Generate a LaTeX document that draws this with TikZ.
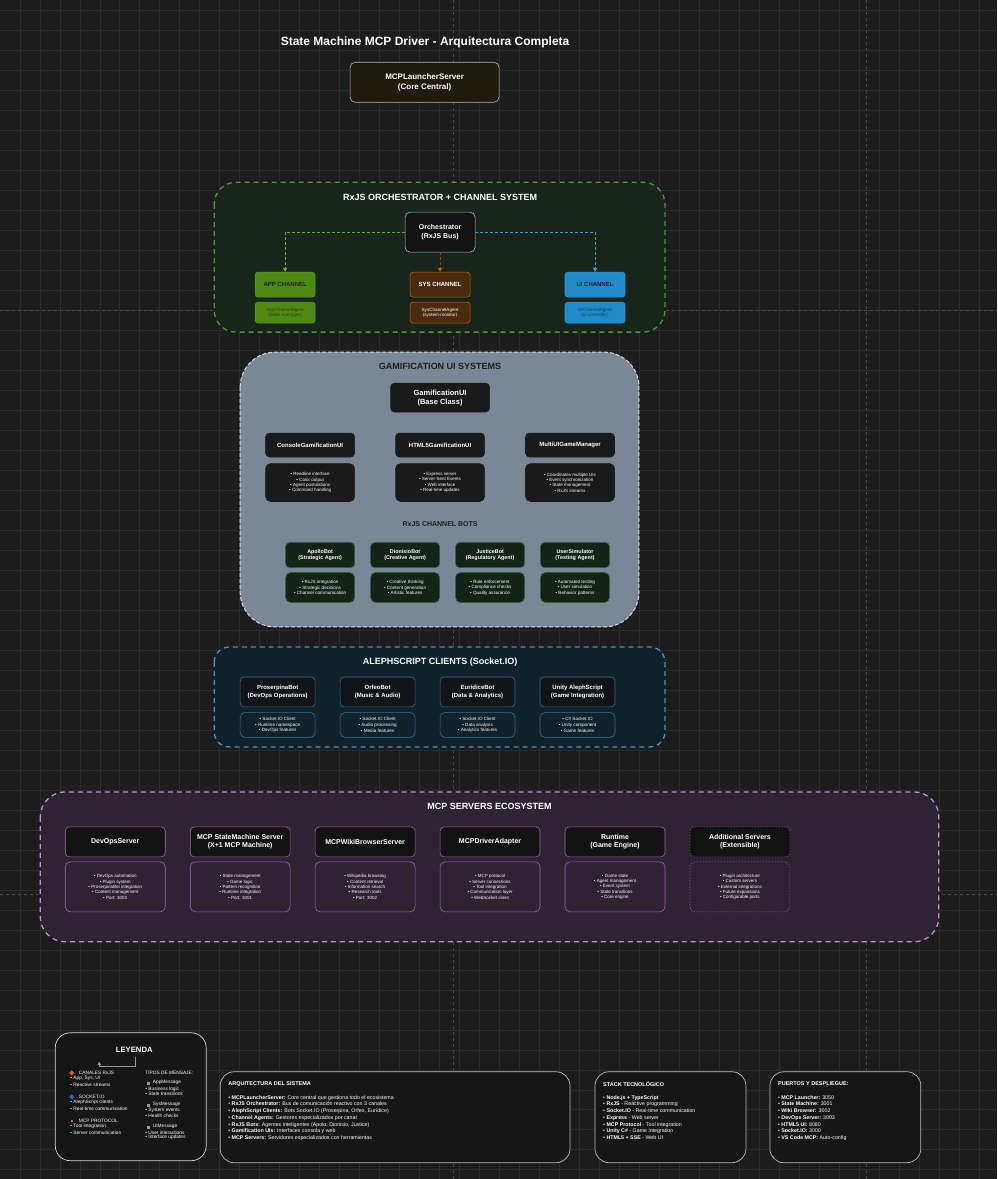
\documentclass[tikz,border=0pt]{standalone}
\usepackage{fontspec}
\setmainfont{Liberation Sans}
\usetikzlibrary{arrows.meta}

% colours
\definecolor{bgdark}{HTML}{1C1C1C}
\definecolor{gridline}{HTML}{2C2C2C}
\definecolor{pagebreak}{HTML}{4A4A4A}
\definecolor{cardblack}{HTML}{121212}
\definecolor{cardgray}{HTML}{B4B4B4}
\definecolor{launchfill}{HTML}{1F1A0B}
\definecolor{rxfill}{HTML}{18251A}
\definecolor{rxborder}{HTML}{4E9A3A}
\definecolor{appgreen}{HTML}{4E8A13}
\definecolor{appedge}{HTML}{5C9E1E}
\definecolor{apptext}{HTML}{2A3D18}
\definecolor{sysfill}{HTML}{4A2A0D}
\definecolor{sysorange}{HTML}{C6620F}
\definecolor{sysline}{HTML}{8A4A14}
\definecolor{uiblue}{HTML}{1F8BC9}
\definecolor{uiedge}{HTML}{2C9AD8}
\definecolor{uitext}{HTML}{1A3E5C}
\definecolor{flowgreen}{HTML}{6AAA3C}
\definecolor{flowblue}{HTML}{4A9AD0}
\definecolor{gamfill}{HTML}{7A8797}
\definecolor{gamedge}{HTML}{D6DADF}
\definecolor{gamtext}{HTML}{1E1E1E}
\definecolor{gamcard}{HTML}{1A1A1A}
\definecolor{botfill}{HTML}{142317}
\definecolor{botedge}{HTML}{2F5F37}
\definecolor{alephfill}{HTML}{0F222C}
\definecolor{alephedge}{HTML}{4A94C6}
\definecolor{clientedge}{HTML}{3A6E8E}
\definecolor{clientfill}{HTML}{111418}
\definecolor{mcpfill}{HTML}{2E2233}
\definecolor{mcpedge}{HTML}{C48FD8}
\definecolor{srvedge}{HTML}{9A6CA8}
\definecolor{extraedge}{HTML}{7E6488}
\definecolor{notefill}{HTML}{161616}
\definecolor{noteedge}{HTML}{BDBDBD}
\definecolor{legorange}{HTML}{E8601C}
\definecolor{legblue}{HTML}{1E70C2}
\definecolor{leggray}{HTML}{9A9A9A}

\tikzset{
  groupbox/.style={line width=1.3pt, dash pattern=on 5pt off 4pt},
  grouptitle/.style={text=white, font=\bfseries\fontsize{9}{11}\selectfont},
  card/.style={draw=#1, fill=cardblack, text=white, rounded corners=4pt, line width=0.6pt, align=center, inner sep=0pt, font=\bfseries\fontsize{6}{7.4}\selectfont},
  card/.default=cardblack,
  desc/.style={draw=#1, text=white, rounded corners=5pt, line width=0.6pt, align=center, inner sep=0pt, font=\fontsize{4.5}{5.4}\selectfont},
  chan/.style={rounded corners=3pt, line width=0.6pt, minimum width=60pt, minimum height=25pt, inner sep=0pt, align=center, font=\bfseries\fontsize{6}{7}\selectfont},
  chanagent/.style={rounded corners=3pt, line width=0.6pt, minimum width=60pt, minimum height=21pt, inner sep=0pt, align=center, font=\fontsize{4.6}{5.6}\selectfont},
  flow/.style={line width=1pt, dash pattern=on 3pt off 2pt},
  note/.style={draw=noteedge, fill=notefill, rounded corners=14pt, line width=0.7pt},
  notetext/.style={text=white, align=left, anchor=north west, inner sep=0pt, font=\fontsize{5.3}{6.7}\selectfont},
  legtext/.style={text=white, anchor=west, inner sep=0pt, font=\fontsize{4.8}{5.8}\selectfont},
}

\begin{document}
\begin{tikzpicture}[x=1pt,y=-1pt]
  % background, grid and page breaks
  \fill[bgdark] (0,0) rectangle (997,1179);
  \foreach \gx in {19.5,39.5,...,997} \draw[gridline, line width=0.5pt] (\gx,0) -- (\gx,1179);
  \foreach \gy in {10,30,...,1179} \draw[gridline, line width=0.5pt] (0,\gy) -- (997,\gy);
  \draw[pagebreak, line width=0.6pt, dash pattern=on 3pt off 3pt] (453,0) -- (453,1179) (866.5,0) -- (866.5,1179) (0,310) -- (997,310) (0,894.5) -- (997,894.5);

  % the title and the launcher
  \node[text=white, font=\bfseries\fontsize{12}{14}\selectfont] (title) at (425,42) {State Machine MCP Driver - Arquitectura Completa};
  \node[card=cardgray, fill=launchfill, rounded corners=5pt, minimum width=149pt, minimum height=40pt, font=\bfseries\fontsize{8}{9.6}\selectfont] (launcher) at (424.5,82) {MCPLauncherServer\\(Core Central)};

  % rxjs orchestrator and the channels
  \draw[groupbox, draw=rxborder, fill=rxfill, rounded corners=22pt] (214,182) rectangle (665,332);
  \node[grouptitle] (rxtitle) at (440,197) {RxJS ORCHESTRATOR + CHANNEL SYSTEM};
  \node[card=cardgray, rounded corners=5pt, minimum width=70pt, minimum height=40pt, font=\bfseries\fontsize{7}{8.4}\selectfont] (orch) at (440,232) {Orchestrator\\(RxJS Bus)};

  \node[chan, draw=appedge, fill=appgreen, text=gamtext] (appch) at (285,284.5) {APP CHANNEL};
  \node[chan, draw=sysorange, fill=sysfill, text=white] (sysch) at (440,284.5) {SYS CHANNEL};
  \node[chan, draw=uiedge, fill=uiblue, text=gamtext] (uich) at (595,284.5) {UI CHANNEL};
  \node[chanagent, draw=appedge, fill=appgreen, text=apptext] (appag) at (285,312.5) {AppChannelAgent\\(state-manager)};
  \node[chanagent, draw=sysorange, fill=sysfill, text=white] (sysag) at (440,312.5) {SysChannelAgent\\(system-monitor)};
  \node[chanagent, draw=uiedge, fill=uiblue, text=uitext] (uiag) at (595,312.5) {UIChannelAgent\\(ui-controller)};

  % draw the arrows
  \draw[flow, flowgreen, -{Triangle[length=4pt,width=4pt]}] (orch.west) -| (appch.north);
  \draw[flow, sysline, -{Triangle[length=4pt,width=4pt,color=sysorange]}] (orch.south) -- (sysch.north);
  \draw[flow, flowblue, -{Triangle[length=4pt,width=4pt]}] (orch.east) -| (uich.north);

  % gamification ui systems
  \draw[groupbox, draw=gamedge, fill=gamfill, rounded corners=35pt, line width=1pt, dash pattern=on 4pt off 2pt] (240,352) rectangle (639,627);
  \node[grouptitle, text=gamtext] (gamtitle) at (440,366) {GAMIFICATION UI SYSTEMS};
  \node[card=gamcard, fill=gamcard, minimum width=99pt, minimum height=29pt, font=\bfseries\fontsize{7.5}{9}\selectfont] (gambase) at (440,397.5) {GamificationUI\\(Base Class)};

  \node[card=gamcard, fill=gamcard, minimum width=89pt, minimum height=24pt] (consoleui) at (310,445) {ConsoleGamificationUI};
  \node[card=gamcard, fill=gamcard, minimum width=89pt, minimum height=24pt] (htmlui) at (440,445) {HTML5GamificationUI};
  \node[card=gamcard, fill=gamcard, minimum width=89pt, minimum height=24pt] (multiui) at (570,445) {MultiUIGameManager};
  \node[desc=gamcard, fill=gamcard, minimum width=89pt, minimum height=38pt] (consoledesc) at (310,482.5) {• Readline interface\\• Color output\\• Agent postulations\\• Command handling};
  \node[desc=gamcard, fill=gamcard, minimum width=89pt, minimum height=38pt] (htmldesc) at (440,482.5) {• Express server\\• Server-Sent Events\\• Web interface\\• Real-time updates};
  \node[desc=gamcard, fill=gamcard, minimum width=89pt, minimum height=38pt] (multidesc) at (570,482.5) {• Coordinates multiple UIs\\• Event synchronization\\• State management\\• RxJS streams};

  % the bots
  \node[text=gamtext, font=\bfseries\fontsize{7}{8}\selectfont] (bottitle) at (440,524) {RxJS CHANNEL BOTS};
  \node[card=botedge, fill=botfill, minimum width=69pt, minimum height=25pt, font=\bfseries\fontsize{5.4}{6.6}\selectfont] (apollo) at (320,555) {ApolloBot\\(Strategic Agent)};
  \node[card=botedge, fill=botfill, minimum width=69pt, minimum height=25pt, font=\bfseries\fontsize{5.4}{6.6}\selectfont] (dionisio) at (405,555) {DionisioBot\\(Creative Agent)};
  \node[card=botedge, fill=botfill, minimum width=69pt, minimum height=25pt, font=\bfseries\fontsize{5.4}{6.6}\selectfont] (justice) at (490,555) {JusticeBot\\(Regulatory Agent)};
  \node[card=botedge, fill=botfill, minimum width=69pt, minimum height=25pt, font=\bfseries\fontsize{5.4}{6.6}\selectfont] (usersim) at (575,555) {UserSimulator\\(Testing Agent)};
  \node[desc=botedge, fill=botfill, minimum width=69pt, minimum height=30pt, font=\fontsize{4.6}{5.5}\selectfont] (apollodesc) at (320,587.5) {• RxJS integration\\• Strategic decisions\\• Channel communication};
  \node[desc=botedge, fill=botfill, minimum width=69pt, minimum height=30pt, font=\fontsize{4.6}{5.5}\selectfont] (dionisiodesc) at (405,587.5) {• Creative thinking\\• Content generation\\• Artistic features};
  \node[desc=botedge, fill=botfill, minimum width=69pt, minimum height=30pt, font=\fontsize{4.6}{5.5}\selectfont] (justicedesc) at (490,587.5) {• Rule enforcement\\• Compliance checks\\• Quality assurance};
  \node[desc=botedge, fill=botfill, minimum width=69pt, minimum height=30pt, font=\fontsize{4.6}{5.5}\selectfont] (usersimdesc) at (575,587.5) {• Automated testing\\• User simulation\\• Behavior patterns};

  % alephscript clients
  \draw[groupbox, draw=alephedge, fill=alephfill, rounded corners=15pt] (214,647) rectangle (665,747);
  \node[grouptitle] (alephtitle) at (440,662) {ALEPHSCRIPT CLIENTS (Socket.IO)};
  \node[card=clientedge, fill=clientfill, minimum width=75pt, minimum height=30pt] (proserpina) at (277.5,692) {ProserpinaBot\\(DevOps Operations)};
  \node[card=clientedge, fill=clientfill, minimum width=75pt, minimum height=30pt] (orfeo) at (377.5,692) {OrfeoBot\\(Music \& Audio)};
  \node[card=clientedge, fill=clientfill, minimum width=75pt, minimum height=30pt] (euridice) at (477.5,692) {EuridiceBot\\(Data \& Analytics)};
  \node[card=clientedge, fill=clientfill, minimum width=75pt, minimum height=30pt] (unity) at (577.5,692) {Unity AlephScript\\(Game Integration)};
  \node[desc=clientedge, fill=alephfill, minimum width=75pt, minimum height=25pt, font=\fontsize{4.6}{5.6}\selectfont] (proserpinadesc) at (277.5,725) {• Socket.IO Client\\• Runtime namespace\\• DevOps features};
  \node[desc=clientedge, fill=alephfill, minimum width=75pt, minimum height=25pt, font=\fontsize{4.6}{5.6}\selectfont] (orfeodesc) at (377.5,725) {• Socket.IO Client\\• Audio processing\\• Media features};
  \node[desc=clientedge, fill=alephfill, minimum width=75pt, minimum height=25pt, font=\fontsize{4.6}{5.6}\selectfont] (euridicedesc) at (477.5,725) {• Socket.IO Client\\• Data analysis\\• Analytics features};
  \node[desc=clientedge, fill=alephfill, minimum width=75pt, minimum height=25pt, font=\fontsize{4.6}{5.6}\selectfont] (unitydesc) at (577.5,725) {• C\# Socket.IO\\• Unity component\\• Game features};

  % mcp servers
  \draw[groupbox, draw=mcpedge, fill=mcpfill, rounded corners=25pt] (40,792) rectangle (939,942);
  \node[grouptitle] (mcptitle) at (489.5,807) {MCP SERVERS ECOSYSTEM};
  \node[card=srvedge, minimum width=100pt, minimum height=30pt, font=\bfseries\fontsize{7}{8.2}\selectfont] (devops) at (115,842) {DevOpsServer};
  \node[card=srvedge, minimum width=100pt, minimum height=30pt, font=\bfseries\fontsize{7}{8.2}\selectfont] (statemachine) at (240,842) {MCP StateMachine Server\\(X+1 MCP Machine)};
  \node[card=srvedge, minimum width=100pt, minimum height=30pt, font=\bfseries\fontsize{7}{8.2}\selectfont] (wiki) at (365,842) {MCPWikiBrowserServer};
  \node[card=srvedge, minimum width=100pt, minimum height=30pt, font=\bfseries\fontsize{7}{8.2}\selectfont] (driver) at (490,842) {MCPDriverAdapter};
  \node[card=srvedge, minimum width=100pt, minimum height=30pt, font=\bfseries\fontsize{7}{8.2}\selectfont] (runtime) at (615,842) {Runtime\\(Game Engine)};
  \node[card=extraedge, dash pattern=on 1.5pt off 1.5pt, minimum width=100pt, minimum height=30pt, font=\bfseries\fontsize{7}{8.2}\selectfont] (extra) at (740,842) {Additional Servers\\(Extensible)};
  \node[desc=srvedge, fill=mcpfill, minimum width=100pt, minimum height=50pt] (devopsdesc) at (115,887) {• DevOps automation\\• Plugin system\\• ProserpinaBot integration\\• Content management\\• Port: 3003};
  \node[desc=srvedge, fill=mcpfill, minimum width=100pt, minimum height=50pt] (statemachinedesc) at (240,887) {• State management\\• Game logic\\• Pattern recognition\\• Runtime integration\\• Port: 3001};
  \node[desc=srvedge, fill=mcpfill, minimum width=100pt, minimum height=50pt] (wikidesc) at (365,887) {• Wikipedia browsing\\• Content retrieval\\• Information search\\• Research tools\\• Port: 3002};
  \node[desc=srvedge, fill=mcpfill, minimum width=100pt, minimum height=50pt] (driverdesc) at (490,887) {• MCP protocol\\• Server connections\\• Tool integration\\• Communication layer\\• WebSocket client};
  \node[desc=srvedge, fill=mcpfill, minimum width=100pt, minimum height=50pt] (runtimedesc) at (615,887) {• Game state\\• Agent management\\• Event system\\• State transitions\\• Core engine};
  \node[desc=extraedge, fill=mcpfill, dash pattern=on 1.5pt off 1.5pt, minimum width=100pt, minimum height=50pt] (extradesc) at (740,887) {• Plugin architecture\\• Custom servers\\• External integrations\\• Future expansions\\• Configurable ports};

  % the legend
  \draw[note, draw=white!85!black, rounded corners=15pt] (55,1033) rectangle (206,1161);
  \node[text=white, font=\bfseries\fontsize{7.7}{9}\selectfont] (legtitle) at (134,1050) {LEYENDA};
  \coordinate (legA) at (135,1057);
  \coordinate (legB) at (99,1062);
  \draw[leggray, line width=0.8pt, -{Triangle[length=3pt,width=3.5pt]}] (legA) -- ++(0,10) -| (legB);

  \fill[legorange] (71.5,1070.5) -- (74,1073) -- (71.5,1075.5) -- (69,1073) -- cycle;
  \node[legtext] (legrx) at (78.5,1073) {CANALES RxJS};
  \node[legtext] (legrxa) at (70,1079) {• App, Sys, UI};
  \node[legtext] (legrxb) at (70,1085) {• Reactive streams};
  \fill[legblue] (71.5,1094.5) -- (74,1097) -- (71.5,1099.5) -- (69,1097) -- cycle;
  \node[legtext] (legio) at (78.5,1097) {SOCKET.IO};
  \node[legtext] (legioa) at (70,1103) {• AlephScript clients};
  \node[legtext] (legiob) at (70,1109) {• Real-time communication};
  \fill[legorange] (70.5,1120) rectangle (73,1122.5);
  \node[legtext] (legmcp) at (78.5,1121) {MCP PROTOCOL};
  \node[legtext] (legmcpa) at (70,1127) {• Tool integration};
  \node[legtext] (legmcpb) at (70,1133) {• Server communication};

  \node[legtext] (legmsg) at (145,1073) {TIPOS DE MENSAJE:};
  \fill[leggray] (146.5,1082) rectangle (149.5,1085);
  \node[legtext] (legapp) at (152.5,1083) {AppMessage};
  \node[legtext] (legappa) at (145,1089) {• Business logic};
  \node[legtext] (legappb) at (145,1094) {• State transitions};
  \fill[leggray] (146.5,1104) rectangle (149.5,1107);
  \node[legtext] (legsys) at (152.5,1105) {SysMessage};
  \node[legtext] (legsysa) at (145,1111) {• System events};
  \node[legtext] (legsysb) at (145,1116) {• Health checks};
  \fill[leggray] (146.5,1126) rectangle (149.5,1129);
  \node[legtext] (legui) at (152.5,1127) {UIMessage};
  \node[legtext] (leguia) at (145,1133) {• User interactions};
  \node[legtext] (leguib) at (145,1138) {• Interface updates};

  % the notes at the bottom
  \draw[note] (220,1072) rectangle (570,1163);
  \node[notetext, font=\bfseries\fontsize{5.5}{6.6}\selectfont] (archtitle) at (228,1081.5) {ARQUITECTURA DEL SISTEMA};
  \node[notetext] (archlist) at (228,1095.5) {• \textbf{MCPLauncherServer:} Core central que gestiona todo el ecosistema\\
    • \textbf{RxJS Orchestrator:} Bus de comunicación reactivo con 3 canales\\
    • \textbf{AlephScript Clients:} Bots Socket.IO (Proserpina, Orfeo, Eurídice)\\
    • \textbf{Channel Agents:} Gestores especializados por canal\\
    • \textbf{RxJS Bots:} Agentes inteligentes (Apolo, Dionisio, Justice)\\
    • \textbf{Gamification UIs:} Interfaces consola y web\\
    • \textbf{MCP Servers:} Servidores especializados con herramientas};

  \draw[note] (595,1072) rectangle (746,1163);
  \node[notetext, font=\bfseries\fontsize{5.5}{6.6}\selectfont] (stacktitle) at (603,1081.5) {STACK TECNOLÓGICO};
  \node[notetext] (stacklist) at (603,1095.5) {• \textbf{Node.js + TypeScript}\\
    • \textbf{RxJS} - Reactive programming\\
    • \textbf{Socket.IO} - Real-time communication\\
    • \textbf{Express} - Web server\\
    • \textbf{MCP Protocol} - Tool integration\\
    • \textbf{Unity C\#} - Game integration\\
    • \textbf{HTML5 + SSE} - Web UI};

  \draw[note] (770,1072) rectangle (921,1163);
  \node[notetext, font=\bfseries\fontsize{5.5}{6.6}\selectfont] (portstitle) at (778,1081.5) {PUERTOS Y DESPLIEGUE:};
  \node[notetext] (portslist) at (778,1095.5) {• \textbf{MCP Launcher:} 3050\\
    • \textbf{State Machine:} 3001\\
    • \textbf{Wiki Browser:} 3002\\
    • \textbf{DevOps Server:} 3003\\
    • \textbf{HTML5 UI:} 8080\\
    • \textbf{Socket.IO:} 3000\\
    • \textbf{VS Code MCP:} Auto-config};
\end{tikzpicture}
\end{document}
